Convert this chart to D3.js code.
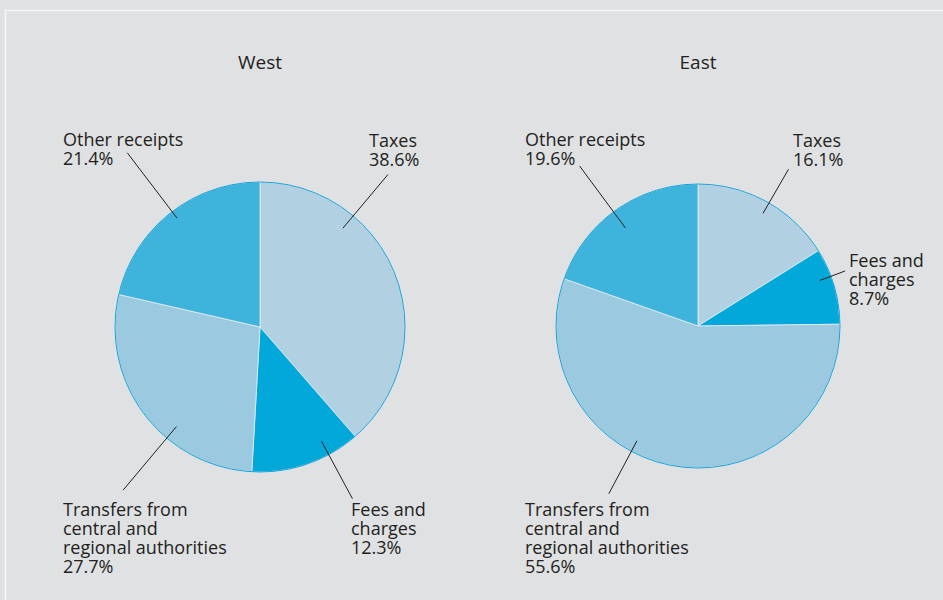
<!DOCTYPE html>
<html>
<head>
<meta charset="utf-8">
<script src="https://cdn.jsdelivr.net/npm/d3@7/dist/d3.min.js"></script>
<style>
  html, body { margin: 0; padding: 0; background: #e0e1e3; }
  svg { display: block; }
</style>
</head>
<body>
<script>
// ---- data ----
const categories = ["Taxes", "Fees and charges", "Transfers from central and regional authorities", "Other receipts"];
const regions = ["West", "East"];
const westValues = [38.6, 12.3, 27.7, 21.4];
const eastValues = [16.1, 8.7, 55.6, 19.6];
// label lines (text wrapping of category names)
const labelLines = [["Taxes"], ["Fees and", "charges"], ["Transfers from", "central and", "regional authorities"], ["Other receipts"]];
const colors = ["#b1d1e2", "#02a8da", "#9ac9e0", "#3eb3db"];

// ---- layout ----
const W = 943, H = 600;
const pies = [
  { name: "West", values: westValues, cx: 260, cy: 327, r: 145,
    leaders: [[40, 129, 199], [151.7, 130, 195], [220, 130, 213], [322.7, 137, 219]],
    labels: [[369, 147], [351, 516], [63, 516], [63, 146]] },
  { name: "East", values: eastValues, cx: 698, cy: 326, r: 142,
    leaders: [[30, 130, 181], [69.5, 130, 157], [208, 130, 190], [323.5, 122, 199]],
    labels: [[793, 147], [849, 267], [525, 516], [525, 146]] }
];
const fontFamily = "'Open Sans', 'Noto Sans', sans-serif";
const fontSize = 18;
const titleSize = 19;
const lineH = 19;
const textColor = "#231f20";

const svg = d3.select("body").append("svg").attr("width", W).attr("height", H);
svg.append("rect").attr("width", W).attr("height", H).attr("fill", "#e0e1e3");
// frame line
svg.append("path")
  .attr("d", `M5.5,${H + 5} V10.5 H${W + 5}`)
  .attr("fill", "none").attr("stroke", "#f6f7f8").attr("stroke-width", 1.6);

const pie = d3.pie().sort(null).value(d => d);

pies.forEach(p => {
  const g = svg.append("g").attr("transform", `translate(${p.cx},${p.cy})`);
  const arc = d3.arc().innerRadius(0).outerRadius(p.r);
  const arcs = pie(p.values);
  g.selectAll("path.slice").data(arcs).enter().append("path")
    .attr("class", "slice")
    .attr("d", arc)
    .attr("fill", (d, i) => colors[i])
    .attr("stroke", "#e4eef4").attr("stroke-width", 0.8);
  g.append("circle").attr("r", p.r).attr("fill", "none")
    .attr("stroke", "#1ba3d9").attr("stroke-width", 1);

  // title
  svg.append("text").attr("x", p.cx).attr("y", 69)
    .attr("text-anchor", "middle")
    .attr("font-family", fontFamily).attr("font-size", titleSize)
    .attr("fill", textColor).text(p.name);

  const polar = (deg, rr) => {
    const a = deg * Math.PI / 180;
    return [p.cx + rr * Math.sin(a), p.cy - rr * Math.cos(a)];
  };

  arcs.forEach((d, i) => {
    const [ang, r1, r2] = p.leaders[i];
    const a = polar(ang, r1), b = polar(ang, r2);
    svg.append("line").attr("x1", a[0]).attr("y1", a[1]).attr("x2", b[0]).attr("y2", b[1])
      .attr("stroke", textColor).attr("stroke-width", 1);
    const lines = labelLines[i].concat([d3.format(".1f")(d.data) + "%"]);
    const t = svg.append("text")
      .attr("font-family", fontFamily).attr("font-size", fontSize).attr("fill", textColor);
    lines.forEach((ln, k) => {
      t.append("tspan").attr("x", p.labels[i][0]).attr("y", p.labels[i][1] + k * lineH).text(ln);
    });
  });
});
</script>
</body>
</html>
